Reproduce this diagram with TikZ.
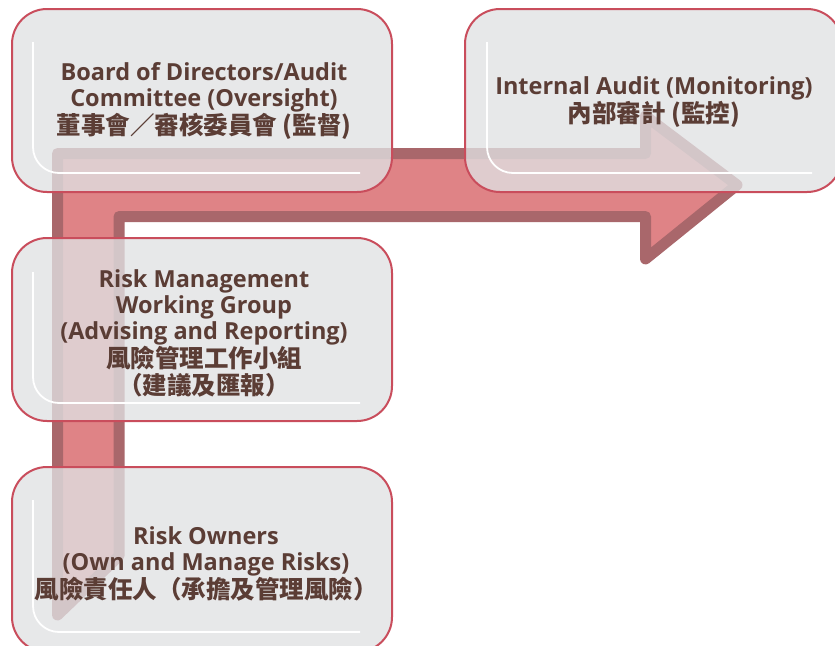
\documentclass[tikz,border=0pt]{standalone}
\usepackage{fontspec}
\setmainfont{Open Sans}
\newfontfamily\cjk{Noto Sans CJK TC}
\definecolor{boxfill}{HTML}{E0E1E3}
\definecolor{boxedge}{HTML}{C94D5C}
\definecolor{arrowfill}{HTML}{DF8386}
\definecolor{arrowedge}{HTML}{A9676B}
\definecolor{txt}{HTML}{5B3D35}
\tikzset{
  panel/.style={draw=boxedge, line width=2pt, fill=boxfill, fill opacity=0.78, rounded corners=35pt},
  gleam/.style={draw=white, line width=1.8pt, rounded corners=26pt},
  label/.style={text=txt, align=center, font=\bfseries\fontsize{23.5}{26.3}\selectfont, inner sep=0pt}
}
\newcommand{\zhs}[1]{{\cjk\bfseries\fontsize{24.5}{26.3}\selectfont #1}}
\begin{document}
\begin{tikzpicture}[x=1pt,y=-1pt]
\useasboundingbox (0,0) rectangle (835,645);
\clip (0,0) rectangle (835,645);
% bent arrow
\draw[line width=11pt, line join=round, draw=arrowedge, fill=arrowfill]
  (57.5,615) -- (57.5,153.5) -- (645.5,153.5) -- (645.5,116) -- (737,185)
  -- (645.5,259) -- (645.5,216.5) -- (119,216.5) -- (119,556) -- cycle;
% panels
\path[panel] (12,9) rectangle (392,192);
\path[panel] (465,9) rectangle (842,192);
\path[panel] (12,238) rectangle (392,421);
\path[panel] (12,467) rectangle (392,652);
% gleams
\draw[gleam] (33,42) -- (33,173) -- (360,173);
\draw[gleam] (487,42) -- (487,173) -- (812,173);
\draw[gleam] (33,272) -- (33,403) -- (360,403);
\draw[gleam] (33,500) -- (33,632) -- (360,632);
% texts
\node[label] (board) at (204,101) {Board of Directors/Audit\\Committee (Oversight)\\\zhs{董事會／審核委員會 (監督)}};
\node[label] (audit) at (654,102) {Internal Audit (Monitoring)\\\zhs{內部審計 (監控)}};
\node[label] (rmwg) at (204,333) {Risk Management\\Working Group\\(Advising and Reporting)\\\zhs{風險管理工作小組}\\\zhs{（建議及匯報）}};
\node[label] (owners) at (206,564) {Risk Owners\\(Own and Manage Risks)\\\zhs{風險責任人（承擔及管理風險）}};
\end{tikzpicture}
\end{document}
